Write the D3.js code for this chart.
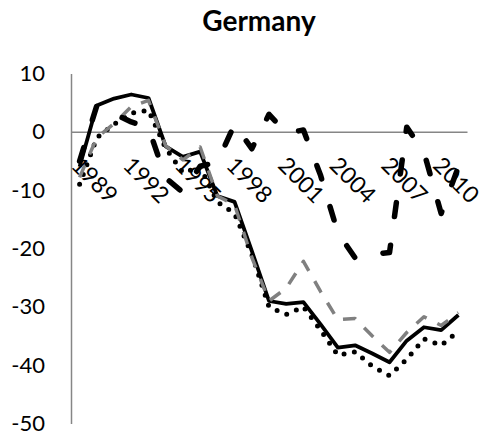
<!DOCTYPE html>
<html>
<head>
<meta charset="utf-8">
<script src="https://cdn.jsdelivr.net/npm/d3@7"></script>
<style>
  body { margin: 0; background: #fff; }
  text { font-family: Lato, "Open Sans", sans-serif; fill: #000; }
</style>
</head>
<body>
<div id="chart"></div>
<script>
// 年（カテゴリ）
const years = [1989, 1990, 1991, 1992, 1993, 1994, 1995, 1996, 1997, 1998, 1999, 2000,
               2001, 2002, 2003, 2004, 2005, 2006, 2007, 2008, 2009, 2010, 2011];
const tickYears = [1989, 1992, 1995, 1998, 2001, 2004, 2007, 2010];
const yTicks = [10, 0, -10, -20, -30, -40, -50];

// 系列の値
const solidSeries  = [-6, 4.5, 5.7, 6.4, 5.8, -2.5, -4.3, -3.4, -11, -12, -20.4, -29,
                      -29.5, -29.2, -33, -37, -36.6, -38, -39.5, -35.8, -33.5, -34, -31.4];
const dottedSeries = [-9, -1, 1.3, 3.2, 3.7, -2.8, -7, -6, -12, -14, -21, -30,
                      -31.3, -30, -34, -38.3, -37.7, -40.2, -41.8, -39, -35.5, -36.6, -34.2];
const grayDashSeries = [-7.8, -1, 1.4, 4.3, 5.4, -2.4, -4.8, -2.6, -11, -12.5, -21.5, -29,
                        -26.8, -22.2, -27.4, -32.2, -32, -35, -37.8, -34.4, -31.7, -33.2, -31];
const longDashSeries = [-5, 4.5, 3.1, 1.7, 0.7, -7.9, -10.4, -5.9, -5.2, 1.3, -2.9, 3,
                        -0.2, 0.3, -7.5, -17.3, -21.6, -21, -20.7, 0.8, -3.5, -14, -6];

const width = 488, height = 441;

const svg = d3.select("#chart")
              .append("svg")
              .attr("width", width)
              .attr("height", height);

const x = d3.scalePoint()
            .domain(years)
            .range([71, 467])
            .padding(0.5);

const y = d3.scaleLinear()
            .domain([-50, 10])
            .range([423.5, 73.5]);

// タイトル
svg.append("text")
   .attr("x", 259)
   .attr("y", 31)
   .attr("text-anchor", "middle")
   .attr("font-size", "28px")
   .attr("font-weight", "bold")
   .text("Germany");

// y軸（マイナスはハイフンで表示）
const yAxis = svg.append("g")
                 .attr("transform", "translate(71,0)")
                 .call(d3.axisLeft(y)
                         .tickValues(yTicks)
                         .tickFormat(d => String(d))
                         .tickSize(0)
                         .tickSizeOuter(0)
                         .tickPadding(26));
yAxis.select(".domain").attr("stroke", "#868686").attr("stroke-width", 1.5);
yAxis.selectAll("text")
     .attr("font-size", "22px")
     .attr("font-family", "Lato, 'Open Sans', sans-serif");

// x軸（0の位置）
const xAxis = svg.append("g")
                 .attr("transform", `translate(0,${y(0)})`)
                 .call(d3.axisBottom(x)
                         .tickValues(tickYears)
                         .tickFormat(d => String(d))
                         .tickSize(0)
                         .tickSizeOuter(0));
xAxis.select(".domain").attr("stroke", "#868686").attr("stroke-width", 1.5);
xAxis.selectAll("text")
     .attr("font-size", "23px")
     .attr("font-family", "Lato, 'Open Sans', sans-serif")
     .attr("text-anchor", "start")
     .attr("x", 0)
     .attr("y", 0)
     .attr("dy", 0)
     .attr("transform", "translate(-10,35) rotate(45)");

// 折れ線
const line = d3.line()
               .x((d, i) => x(years[i]))
               .y(d => y(d));

const series = [
    { values: solidSeries,    stroke: "#000",    width: 3.8, dash: null,     cap: "butt" },
    { values: dottedSeries,   stroke: "#000",    width: 5,   dash: "0,10.5", cap: "round" },
    { values: grayDashSeries, stroke: "#808080", width: 3.5, dash: "13,12",  cap: "butt" },
    { values: longDashSeries, stroke: "#000",    width: 5.5, dash: "14,29",  cap: "round" }
];

series.forEach(s => {
    svg.append("path")
       .datum(s.values)
       .attr("d", line)
       .attr("fill", "none")
       .attr("stroke", s.stroke)
       .attr("stroke-width", s.width)
       .attr("stroke-linejoin", "round")
       .attr("stroke-linecap", s.cap)
       .attr("stroke-dasharray", s.dash);
});
</script>
</body>
</html>
